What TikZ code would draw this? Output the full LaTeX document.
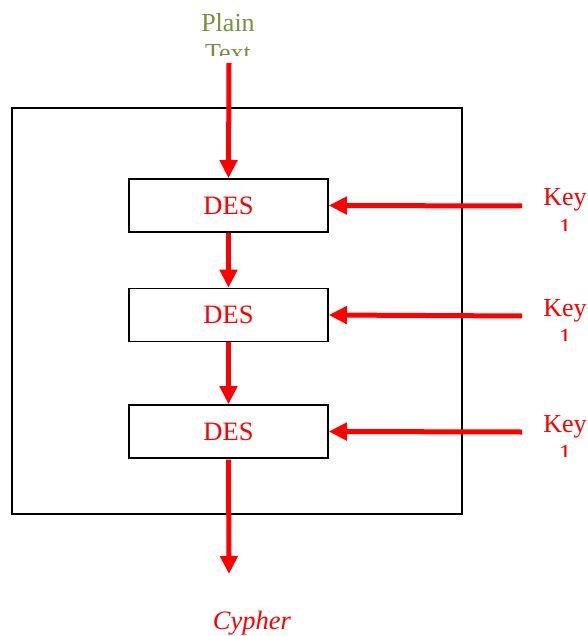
\documentclass[tikz,border=0pt]{standalone}
\usepackage{fontspec}
\setmainfont{Liberation Serif}
\usetikzlibrary{arrows.meta}
\definecolor{plaingreen}{HTML}{76923C}
\definecolor{flowred}{HTML}{FF0000}
\begin{document}
\begin{tikzpicture}[x=1pt,y=1pt,
  desbox/.style={draw=black,line width=1.6pt,minimum width=199pt,minimum height=53pt,
    inner sep=0pt,text=flowred,font=\fontsize{26.5}{30}\selectfont},
  flow/.style={draw=flowred,line width=5pt,-{Triangle[length=18pt,width=17pt]}},
  lbl/.style={font=\fontsize{26}{30}\selectfont,inner sep=0pt,anchor=base}]
\useasboundingbox (0,0) rectangle (587,-636);

% enclosing frame
\node[draw=black,line width=1.6pt,minimum width=450pt,minimum height=406pt,inner sep=0pt]
  (frame) at (237,-311) {};

% the three DES stages
\node[desbox] (d1) at (228.5,-205.5) {DES};
\node[desbox] (d2) at (228.5,-315) {DES};
\node[desbox] (d3) at (228.5,-431.5) {DES};

% input label, second line cut off by its text box
\begin{scope}
  \clip (150,0) rectangle (310,-56);
  \node[lbl,text=plaingreen] (plain) at (228,-32) {Plain};
  \node[lbl,text=plaingreen] (plaintxt) at (228,-62) {Text};
\end{scope}

% key labels, second line cut off
\begin{scope}
  \clip (530,-150) rectangle (600,-230);
  \node[lbl,text=flowred] (k1) at (565,-206) {Key};
  \node[lbl,text=flowred] (k1n) at (565,-236) {1};
\end{scope}
\begin{scope}
  \clip (530,-260) rectangle (600,-340);
  \node[lbl,text=flowred] (k2) at (565,-316) {Key};
  \node[lbl,text=flowred] (k2n) at (565,-346) {1};
\end{scope}
\begin{scope}
  \clip (530,-376) rectangle (600,-456);
  \node[lbl,text=flowred] (k3) at (565,-432) {Key};
  \node[lbl,text=flowred] (k3n) at (565,-462) {1};
\end{scope}

% output label
\node[lbl,text=flowred,font=\fontsize{26.5}{30}\selectfont\itshape] (out) at (252,-629) {Cypher};

% connector end points
\coordinate (pin) at (229,-63);
\coordinate (cout) at (229,-574);
\coordinate (k1s) at (522,-206);
\coordinate (k2s) at (522,-316);
\coordinate (k3s) at (522,-432);

% data flow
\draw[flow] (pin) -- (d1.north);
\draw[flow] (d1.south) -- (d2.north);
\draw[flow] (d2.south) -- (d3.north);
\draw[flow,shorten <=0.8pt] (d3.south) -- (cout);
\draw[flow] (k1s) -- (d1.east);
\draw[flow] (k2s) -- (d2.east);
\draw[flow] (k3s) -- (d3.east);
\end{tikzpicture}
\end{document}
